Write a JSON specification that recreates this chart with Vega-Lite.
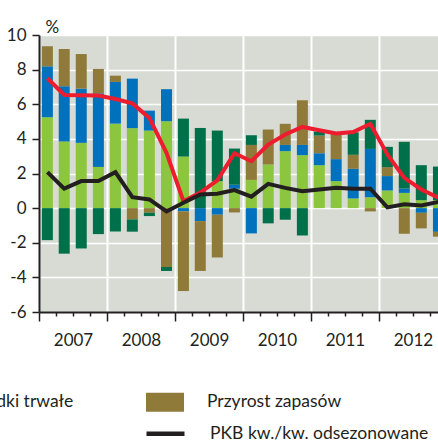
{
  "$schema": "https://vega.github.io/schema/vega-lite/v6.json",
  "width": 399,
  "height": 277,
  "autosize": {"type": "none"},
  "padding": {"left": 39, "top": 35, "right": 0, "bottom": 130},
  "background": "white",
  "config": {
    "font": "Lato",
    "view": {"fill": "#d7dbd4", "stroke": null},
    "axis": {"labelFont": "Lato", "labelColor": "#231f20", "domainColor": "#231f20", "tickColor": "#231f20", "labelOverlap": false}
  },
  "datasets": {
    "bars": [
      {"q": "2007-01-01", "c": "Spożycie ogółem", "v": 5.25}, {"q": "2007-01-01", "c": "Środki trwałe", "v": 2.94}, {"q": "2007-01-01", "c": "Przyrost zapasów", "v": 1.16}, {"q": "2007-01-01", "c": "Eksport netto", "v": -1.85},
      {"q": "2007-04-01", "c": "Spożycie ogółem", "v": 3.85}, {"q": "2007-04-01", "c": "Środki trwałe", "v": 3.19}, {"q": "2007-04-01", "c": "Przyrost zapasów", "v": 2.15}, {"q": "2007-04-01", "c": "Eksport netto", "v": -2.63},
      {"q": "2007-07-01", "c": "Spożycie ogółem", "v": 3.77}, {"q": "2007-07-01", "c": "Środki trwałe", "v": 3.13}, {"q": "2007-07-01", "c": "Przyrost zapasów", "v": 2.0}, {"q": "2007-07-01", "c": "Eksport netto", "v": -2.33},
      {"q": "2007-10-01", "c": "Spożycie ogółem", "v": 2.38}, {"q": "2007-10-01", "c": "Środki trwałe", "v": 4.25}, {"q": "2007-10-01", "c": "Przyrost zapasów", "v": 1.41}, {"q": "2007-10-01", "c": "Eksport netto", "v": -1.5},
      {"q": "2008-01-01", "c": "Spożycie ogółem", "v": 4.88}, {"q": "2008-01-01", "c": "Środki trwałe", "v": 2.41}, {"q": "2008-01-01", "c": "Przyrost zapasów", "v": 0.36}, {"q": "2008-01-01", "c": "Eksport netto", "v": -1.35},
      {"q": "2008-04-01", "c": "Spożycie ogółem", "v": 4.62}, {"q": "2008-04-01", "c": "Środki trwałe", "v": 2.86}, {"q": "2008-04-01", "c": "Przyrost zapasów", "v": -0.65}, {"q": "2008-04-01", "c": "Eksport netto", "v": -0.71},
      {"q": "2008-07-01", "c": "Spożycie ogółem", "v": 4.48}, {"q": "2008-07-01", "c": "Środki trwałe", "v": 1.15}, {"q": "2008-07-01", "c": "Przyrost zapasów", "v": -0.27}, {"q": "2008-07-01", "c": "Eksport netto", "v": -0.19},
      {"q": "2008-10-01", "c": "Spożycie ogółem", "v": 5.02}, {"q": "2008-10-01", "c": "Środki trwałe", "v": 1.85}, {"q": "2008-10-01", "c": "Przyrost zapasów", "v": -3.4}, {"q": "2008-10-01", "c": "Eksport netto", "v": -0.23},
      {"q": "2009-01-01", "c": "Spożycie ogółem", "v": 2.98}, {"q": "2009-01-01", "c": "Środki trwałe", "v": -0.19}, {"q": "2009-01-01", "c": "Przyrost zapasów", "v": -4.6}, {"q": "2009-01-01", "c": "Eksport netto", "v": 2.19},
      {"q": "2009-04-01", "c": "Spożycie ogółem", "v": 0.0}, {"q": "2009-04-01", "c": "Środki trwałe", "v": -0.75}, {"q": "2009-04-01", "c": "Przyrost zapasów", "v": -2.88}, {"q": "2009-04-01", "c": "Eksport netto", "v": 4.63},
      {"q": "2009-07-01", "c": "Spożycie ogółem", "v": 1.56}, {"q": "2009-07-01", "c": "Środki trwałe", "v": -0.38}, {"q": "2009-07-01", "c": "Przyrost zapasów", "v": -2.47}, {"q": "2009-07-01", "c": "Eksport netto", "v": 2.92},
      {"q": "2009-10-01", "c": "Spożycie ogółem", "v": 1.12}, {"q": "2009-10-01", "c": "Środki trwałe", "v": 0.23}, {"q": "2009-10-01", "c": "Przyrost zapasów", "v": -0.25}, {"q": "2009-10-01", "c": "Eksport netto", "v": 2.09},
      {"q": "2010-01-01", "c": "Spożycie ogółem", "v": 1.63}, {"q": "2010-01-01", "c": "Środki trwałe", "v": -1.46}, {"q": "2010-01-01", "c": "Przyrost zapasów", "v": 2.02}, {"q": "2010-01-01", "c": "Eksport netto", "v": 0.56},
      {"q": "2010-04-01", "c": "Spożycie ogółem", "v": 2.52}, {"q": "2010-04-01", "c": "Środki trwałe", "v": 0.0}, {"q": "2010-04-01", "c": "Przyrost zapasów", "v": 2.02}, {"q": "2010-04-01", "c": "Eksport netto", "v": -0.88},
      {"q": "2010-07-01", "c": "Spożycie ogółem", "v": 3.29}, {"q": "2010-07-01", "c": "Środki trwałe", "v": 0.36}, {"q": "2010-07-01", "c": "Przyrost zapasów", "v": 1.22}, {"q": "2010-07-01", "c": "Eksport netto", "v": -0.67},
      {"q": "2010-10-01", "c": "Spożycie ogółem", "v": 3.06}, {"q": "2010-10-01", "c": "Środki trwałe", "v": 0.59}, {"q": "2010-10-01", "c": "Przyrost zapasów", "v": 2.58}, {"q": "2010-10-01", "c": "Eksport netto", "v": -1.58},
      {"q": "2011-01-01", "c": "Spożycie ogółem", "v": 2.48}, {"q": "2011-01-01", "c": "Środki trwałe", "v": 0.69}, {"q": "2011-01-01", "c": "Przyrost zapasów", "v": 1.02}, {"q": "2011-01-01", "c": "Eksport netto", "v": 0.23},
      {"q": "2011-04-01", "c": "Spożycie ogółem", "v": 1.56}, {"q": "2011-04-01", "c": "Środki trwałe", "v": 1.27}, {"q": "2011-04-01", "c": "Przyrost zapasów", "v": 1.47}, {"q": "2011-04-01", "c": "Eksport netto", "v": 0.0},
      {"q": "2011-07-01", "c": "Spożycie ogółem", "v": 0.56}, {"q": "2011-07-01", "c": "Środki trwałe", "v": 1.71}, {"q": "2011-07-01", "c": "Przyrost zapasów", "v": 0.81}, {"q": "2011-07-01", "c": "Eksport netto", "v": 1.3},
      {"q": "2011-10-01", "c": "Spożycie ogółem", "v": 0.63}, {"q": "2011-10-01", "c": "Środki trwałe", "v": 2.79}, {"q": "2011-10-01", "c": "Przyrost zapasów", "v": -0.19}, {"q": "2011-10-01", "c": "Eksport netto", "v": 1.68},
      {"q": "2012-01-01", "c": "Spożycie ogółem", "v": 1.02}, {"q": "2012-01-01", "c": "Środki trwałe", "v": 0.83}, {"q": "2012-01-01", "c": "Przyrost zapasów", "v": 0.52}, {"q": "2012-01-01", "c": "Eksport netto", "v": 1.17},
      {"q": "2012-04-01", "c": "Spożycie ogółem", "v": 0.88}, {"q": "2012-04-01", "c": "Środki trwałe", "v": 0.25}, {"q": "2012-04-01", "c": "Przyrost zapasów", "v": -1.48}, {"q": "2012-04-01", "c": "Eksport netto", "v": 2.7},
      {"q": "2012-07-01", "c": "Spożycie ogółem", "v": 0.46}, {"q": "2012-07-01", "c": "Środki trwałe", "v": -0.27}, {"q": "2012-07-01", "c": "Przyrost zapasów", "v": -0.9}, {"q": "2012-07-01", "c": "Eksport netto", "v": 2.02},
      {"q": "2012-10-01", "c": "Spożycie ogółem", "v": 0.46}, {"q": "2012-10-01", "c": "Środki trwałe", "v": -1.37}, {"q": "2012-10-01", "c": "Przyrost zapasów", "v": -0.28}, {"q": "2012-10-01", "c": "Eksport netto", "v": 1.94}
    ],
    "lines": [
      {"q": "2007-01-01", "s": "PKB r/r", "v": 7.5}, {"q": "2007-04-01", "s": "PKB r/r", "v": 6.54}, {"q": "2007-07-01", "s": "PKB r/r", "v": 6.52}, {"q": "2007-10-01", "s": "PKB r/r", "v": 6.5},
      {"q": "2008-01-01", "s": "PKB r/r", "v": 6.3}, {"q": "2008-04-01", "s": "PKB r/r", "v": 6.05}, {"q": "2008-07-01", "s": "PKB r/r", "v": 5.21}, {"q": "2008-10-01", "s": "PKB r/r", "v": 3.19},
      {"q": "2009-01-01", "s": "PKB r/r", "v": 0.4}, {"q": "2009-04-01", "s": "PKB r/r", "v": 0.9}, {"q": "2009-07-01", "s": "PKB r/r", "v": 1.6}, {"q": "2009-10-01", "s": "PKB r/r", "v": 3.17},
      {"q": "2010-01-01", "s": "PKB r/r", "v": 2.71}, {"q": "2010-04-01", "s": "PKB r/r", "v": 3.67}, {"q": "2010-07-01", "s": "PKB r/r", "v": 4.25}, {"q": "2010-10-01", "s": "PKB r/r", "v": 4.69},
      {"q": "2011-01-01", "s": "PKB r/r", "v": 4.5}, {"q": "2011-04-01", "s": "PKB r/r", "v": 4.31}, {"q": "2011-07-01", "s": "PKB r/r", "v": 4.4}, {"q": "2011-10-01", "s": "PKB r/r", "v": 4.87},
      {"q": "2012-01-01", "s": "PKB r/r", "v": 3.1}, {"q": "2012-04-01", "s": "PKB r/r", "v": 1.75}, {"q": "2012-07-01", "s": "PKB r/r", "v": 1.08}, {"q": "2012-10-01", "s": "PKB r/r", "v": 0.6},
      {"q": "2007-01-01", "s": "PKB kw./kw. odsezonowane", "v": 2.08}, {"q": "2007-04-01", "s": "PKB kw./kw. odsezonowane", "v": 1.13}, {"q": "2007-07-01", "s": "PKB kw./kw. odsezonowane", "v": 1.56}, {"q": "2007-10-01", "s": "PKB kw./kw. odsezonowane", "v": 1.56},
      {"q": "2008-01-01", "s": "PKB kw./kw. odsezonowane", "v": 2.08}, {"q": "2008-04-01", "s": "PKB kw./kw. odsezonowane", "v": 0.63}, {"q": "2008-07-01", "s": "PKB kw./kw. odsezonowane", "v": 0.5}, {"q": "2008-10-01", "s": "PKB kw./kw. odsezonowane", "v": -0.19},
      {"q": "2009-01-01", "s": "PKB kw./kw. odsezonowane", "v": 0.31}, {"q": "2009-04-01", "s": "PKB kw./kw. odsezonowane", "v": 0.79}, {"q": "2009-07-01", "s": "PKB kw./kw. odsezonowane", "v": 0.83}, {"q": "2009-10-01", "s": "PKB kw./kw. odsezonowane", "v": 1.04},
      {"q": "2010-01-01", "s": "PKB kw./kw. odsezonowane", "v": 0.66}, {"q": "2010-04-01", "s": "PKB kw./kw. odsezonowane", "v": 1.4}, {"q": "2010-07-01", "s": "PKB kw./kw. odsezonowane", "v": 1.17}, {"q": "2010-10-01", "s": "PKB kw./kw. odsezonowane", "v": 0.98},
      {"q": "2011-01-01", "s": "PKB kw./kw. odsezonowane", "v": 1.08}, {"q": "2011-04-01", "s": "PKB kw./kw. odsezonowane", "v": 1.17}, {"q": "2011-07-01", "s": "PKB kw./kw. odsezonowane", "v": 1.12}, {"q": "2011-10-01", "s": "PKB kw./kw. odsezonowane", "v": 1.12},
      {"q": "2012-01-01", "s": "PKB kw./kw. odsezonowane", "v": 0.04}, {"q": "2012-04-01", "s": "PKB kw./kw. odsezonowane", "v": 0.22}, {"q": "2012-07-01", "s": "PKB kw./kw. odsezonowane", "v": 0.15}, {"q": "2012-10-01", "s": "PKB kw./kw. odsezonowane", "v": 0.36}
    ]
  },
  "layer": [
    {
      "data": {"name": "bars"},
      "transform": [{"calculate": "indexof(['Spożycie ogółem', 'Środki trwałe', 'Przyrost zapasów', 'Eksport netto'], datum.c)", "as": "k"}],
      "mark": {"type": "bar", "width": 11},
      "encoding": {
        "x": {
          "field": "q", "type": "temporal", "timeUnit": "utcyearquarter", "bandPosition": 0.5,
          "scale": {"domain": [{"year": 2007, "month": 1, "date": 1, "utc": true}, {"year": 2013, "month": 1, "date": 1, "utc": true}], "range": [0, 408]},
          "axis": {
            "title": null,
            "tickCount": {"interval": "month", "step": 3},
            "labelExpr": "utcmonth(datum.value) == 0 ? utcFormat(datum.value, '%Y') : ''",
            "labelOffset": 34,
            "labelFlush": false,
            "labelOverlap": false,
            "labelAlign": "center",
            "labelFontSize": 17,
            "labelPadding": 11,
            "tickSize": {"condition": {"test": "utcmonth(datum.value) == 0", "value": 9}, "value": 4},
            "tickWidth": 1.5,
            "domainWidth": 2,
            "grid": true,
            "gridColor": "white",
            "gridWidth": 2,
            "gridOpacity": {"condition": {"test": "utcmonth(datum.value) == 0", "value": 1}, "value": 0}
          }
        },
        "y": {
          "field": "v", "type": "quantitative", "stack": "zero",
          "scale": {"domain": [-6, 10], "nice": false},
          "axis": {
            "values": [-6, -4, -2, 0, 2, 4, 6, 8, 10],
            "tickCount": 20,
            "labelExpr": "datum.value < 0 ? '-' + abs(datum.value) : '' + datum.value",
            "labelOverlap": false,
            "labelFlush": false,
            "tickSize": 7, "tickWidth": 1.5, "domainWidth": 2,
            "labelPadding": 6, "labelFontSize": 17,
            "grid": true, "gridColor": "white", "gridWidth": 1.5,
            "title": "%", "titleAngle": 0, "titleX": 6, "titleY": -3, "titleAlign": "left", "titleBaseline": "alphabetic",
            "titleFontWeight": "normal", "titleFontSize": 17, "titleColor": "#231f20", "titleFont": "Lato"
          }
        },
        "fill": {
          "field": "c", "type": "nominal",
          "sort": ["Spożycie ogółem", "Środki trwałe", "Przyrost zapasów", "Eksport netto"],
          "scale": {"domain": ["Spożycie ogółem", "Środki trwałe", "Przyrost zapasów", "Eksport netto"], "range": ["#8cc63e", "#0071bc", "#8f7a3a", "#00704a"]},
          "legend": {
            "orient": "none", "legendX": -365, "legendY": 348, "direction": "horizontal", "columns": 3, "gridAlign": "all",
            "columnPadding": 40, "rowPadding": 11, "symbolType": "M-1,-0.5H1V0.5H-1Z", "symbolSize": 1444, "symbolStrokeWidth": 0,
            "symbolOpacity": 1, "labelOffset": 23, "labelFontSize": 17.5, "labelColor": "#231f20", "labelFont": "Lato", "labelLimit": 400,
            "title": null, "padding": 0
          }
        },
        "order": {"field": "k", "type": "quantitative", "sort": "ascending"}
      }
    },
    {
      "mark": {"type": "rule", "color": "#231f20", "strokeWidth": 1},
      "encoding": {"y": {"datum": 0}}
    },
    {
      "mark": {"type": "rule", "color": "#3c3c3c", "strokeWidth": 2},
      "encoding": {"y": {"datum": 10}}
    },
    {
      "data": {"name": "lines"},
      "transform": [{"filter": "datum.s == 'PKB r/r'"}],
      "mark": {"type": "line", "strokeWidth": 4},
      "encoding": {
        "x": {"field": "q", "type": "temporal", "timeUnit": "utcyearquarter", "bandPosition": 0.5},
        "y": {"field": "v", "type": "quantitative"},
        "stroke": {
          "field": "s", "type": "nominal",
          "scale": {"domain": ["PKB r/r", "PKB kw./kw. odsezonowane"], "range": ["#ed1c2e", "#231f20"]},
          "legend": {
            "orient": "none", "legendX": -587, "legendY": 377, "direction": "horizontal", "columns": 2, "gridAlign": "all",
            "columnPadding": 400, "symbolType": "stroke", "symbolSize": 1444, "symbolStrokeWidth": 4.5,
            "labelOffset": 23, "labelFontSize": 17.5, "labelColor": "#231f20", "labelFont": "Lato", "labelLimit": 400,
            "title": null, "padding": 0
          }
        }
      }
    },
    {
      "data": {"name": "lines"},
      "transform": [{"filter": "datum.s == 'PKB kw./kw. odsezonowane'"}],
      "mark": {"type": "line", "strokeWidth": 4},
      "encoding": {
        "x": {"field": "q", "type": "temporal", "timeUnit": "utcyearquarter", "bandPosition": 0.5},
        "y": {"field": "v", "type": "quantitative"},
        "stroke": {"field": "s", "type": "nominal"}
      }
    }
  ]
}
